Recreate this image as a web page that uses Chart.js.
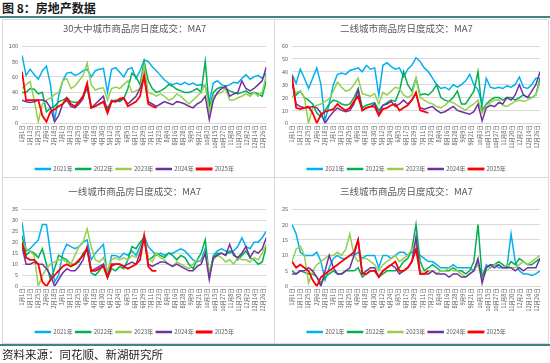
<!DOCTYPE html>
<html>
<head>
<meta charset="utf-8">
<script src="https://cdn.jsdelivr.net/npm/chart.js@4.4.1/dist/chart.umd.min.js"></script>
<style>
  body { margin: 0; width: 550px; height: 363px; background: #fff; position: relative; overflow: hidden;
         font-family: "Noto Sans CJK SC", sans-serif; }
  .abs { position: absolute; }
  #head { left: 2px; top: 0px; font-size: 12px; font-weight: bold; color: #1a1a1a; line-height: 16px; }
  .teal { left: 0; width: 550px; height: 2px; background: #3d8584; }
  #frame { left: 2px; top: 19px; width: 545px; height: 323px; border: 1px solid #d9d9d9; }
  #vdiv { left: 274px; top: 19px; width: 1px; height: 324px; background: #d9d9d9; }
  #hdiv { left: 2px; top: 177px; width: 546px; height: 1px; background: #d9d9d9; }
  #foot { left: 2px; top: 346px; font-size: 11.5px; color: #222; line-height: 16px; }
  canvas { position: absolute; }
</style>
</head>
<body>
<div id="head" class="abs">图 8：房地产数据</div>
<div class="abs teal" style="top:16px"></div>
<div id="frame" class="abs"></div>
<div id="vdiv" class="abs"></div>
<div id="hdiv" class="abs"></div>
<canvas id="c1" width="270" height="162" style="left:3px;top:20px"></canvas>
<canvas id="c2" width="274" height="162" style="left:273px;top:20px"></canvas>
<canvas id="c3" width="270" height="162" style="left:3px;top:183px"></canvas>
<canvas id="c4" width="274" height="162" style="left:273px;top:183px"></canvas>
<div class="abs teal" style="top:344px"></div>
<div id="foot" class="abs">资料来源：同花顺、新湖研究所</div>
<script>
const years = ['2021年', '2022年', '2023年', '2024年', '2025年'];
const colors = ['#00B0F0', '#00B050', '#92D050', '#7030A0', '#FF0000'];
const tickLabels = ['1月1日', '1月13日', '1月25日', '2月6日', '2月18日', '3月1日', '3月13日', '3月25日',
  '4月6日', '4月18日', '4月30日', '5月12日', '5月24日', '6月5日', '6月17日', '6月29日', '7月11日',
  '7月23日', '8月4日', '8月16日', '8月28日', '9月9日', '9月21日', '10月3日', '10月15日', '10月27日',
  '11月8日', '11月20日', '12月2日', '12月14日', '12月26日'];
const daysInYear = 365;
const steps = 60; // one reading about every 6 days

// 30大中城市
const c30_2021 = [88,62,70,63,57,68,74,50,3,35,55,65,66,62,64,68,70,60,68,70,71,40,70,72,66,60,70,72,58,68,82,80,73,68,62,56,52,50,52,50,53,50,52,49,50,48,28,52,55,50,48,50,53,52,58,63,57,60,62,58,65];
const c30_2022 = [40,40,45,44,38,40,15,20,22,28,30,33,28,27,28,35,45,20,22,25,28,20,28,30,28,32,45,65,60,50,80,55,45,40,42,45,50,48,44,42,40,40,42,45,40,80,20,40,45,47,45,42,40,38,40,42,38,40,38,35,55];
const c30_2023 = [45,50,54,30,2,25,30,33,37,40,55,58,45,48,55,62,78,50,43,45,46,30,45,47,45,50,55,40,42,45,75,40,38,35,38,35,30,32,38,35,30,25,30,35,40,50,15,35,38,40,45,30,30,33,35,38,35,40,35,40,63];
const c30_2024 = [30,28,27,28,30,30,28,20,2,10,25,30,22,20,25,32,50,20,25,30,35,15,30,28,30,32,25,30,35,45,60,28,25,22,25,28,26,24,28,27,25,22,20,25,28,35,5,30,40,45,48,35,38,40,55,45,42,45,50,55,73];
const c30_2025 = [67,30,30,30,30,10,2,15,18,22,25,33,25,22,28,35,52,20,22,25,28,13,28,28,32,33,22,25,28,35,62,25,22,20];

// 二线城市
const t2_2021 = [38,31,42,35,27,35,43,30,2,15,30,38,39,38,41,42,43,40,45,42,43,22,45,47,44,42,43,36,42,45,51,48,43,40,35,30,27,28,26,30,28,30,33,38,30,26,15,35,28,27,28,27,29,28,30,36,28,27,30,35,35];
const t2_2022 = [30,22,25,20,18,15,8,5,10,15,18,17,15,14,15,20,27,12,14,15,16,10,14,16,18,17,25,40,30,25,35,22,23,22,25,30,20,18,17,20,25,15,15,20,25,40,10,15,18,20,20,18,20,20,18,20,22,20,20,22,35];
const t2_2023 = [20,24,25,20,0,12,14,15,17,19,25,32,28,25,26,30,35,23,22,21,23,15,24,22,25,28,27,22,20,22,35,20,18,16,15,13,12,14,17,16,14,12,10,13,15,18,8,14,16,18,18,14,13,15,17,18,17,18,20,22,32];
const t2_2024 = [32,15,13,12,12,13,12,8,0,5,9,12,10,9,10,15,26,10,12,13,15,7,14,15,17,13,15,18,15,18,23,12,11,12,13,10,8,9,11,13,10,9,8,7,9,15,2,12,14,13,16,15,20,18,22,30,22,20,25,30,40];
const t2_2025 = [37,12,11,12,13,8,0,7,9,10,11,15,12,10,12,17,21,10,12,13,13,6,11,12,14,15,10,12,14,18,24,10,9,8];

// 一线城市
const t1_2021 = [29,16,17,19,21,28,28,15,2,5,15,19,18,17,18,20,21,12,15,17,19,5,14,14,13,15,14,16,14,18,23,18,16,14,15,14,15,15,16,17,16,14,12,11,12,17,5,14,16,17,16,15,16,18,22,18,17,20,20,22,25];
const t1_2022 = [23,14,16,15,13,17,10,3,8,14,13,12,10,10,11,15,17,6,5,7,10,4,8,7,9,8,12,18,17,20,22,12,13,15,14,13,15,14,12,14,13,10,8,12,15,21,5,13,15,15,14,16,15,12,14,16,13,12,10,11,18];
const t1_2023 = [20,17,16,14,0,5,8,10,11,12,12,11,10,14,18,20,26,18,12,11,13,7,12,13,12,13,12,14,13,16,22,13,11,15,13,12,10,9,11,10,9,8,10,12,11,15,7,12,14,13,11,12,10,13,12,12,11,13,12,15,19];
const t1_2024 = [18,10,10,11,10,10,8,5,0,3,6,8,7,7,9,12,18,7,8,9,10,4,9,10,10,9,10,11,10,15,22,10,9,10,11,11,10,9,10,9,8,7,7,9,10,15,3,13,14,15,14,19,14,13,15,18,13,16,15,17,22];
const t1_2025 = [20,13,12,12,10,2,0,3,5,7,9,10,9,10,12,14,17,7,7,8,9,4,10,10,10,9,8,9,10,12,23,9,7,7];

// 三线城市
const t3_2021 = [20,17,11,10,10,10,11,8,2,6,9,10,9,9,10,10,11,9,10,10,10,6,10,10,9,10,11,11,10,11,12,10,9,8,8,7,6,6,6,7,6,6,6,6,5,8,3,7,6,7,6,6,6,17,8,5,4,4,3.5,4,5];
const t3_2022 = [5,4,5,4.5,4,4,3,1,3,4,5,4,4,5,5,5,6,3,4,5,5,3,4,5,5,5,6,8,9,12,20,8,5,6,7,6,5,5,5,6,5,5,4,5,8,20,3,6,7,7,8,7,6,8,7,9,8,7,7,8,9];
const t3_2023 = [8,12,13,10,1,5,7,8,9,10,10,11,10,12,17,10,8,9,9,8,7,5,7,8,9,10,8,9,10,12,14,5,4,5,5,4,5,5,6,5,5,4,3,4,5,7,2,5,6,7,7,6,7,6,6,7,8,7,8,9,10];
const t3_2024 = [4,4,5,5,6,5,3,0,5,10,6,4,4,5,6,10,15,4,5,6,6,3,5,6,7,6,4,5,6,8,16,4,4,4,5,4,4,4,3,4,4,3,3,4,5,9,1,6,7,6,7,6,6,6,5,6,5,6,6,6,9];
const t3_2025 = [8,6,7,6,5,2,0,3,4,5,6,7,8,9,10,11,15,4,4,5,5,3,5,6,7,8,5,5,6,8,12,4,4,5];

const FONT = '"Noto Sans CJK SC", sans-serif';
const GREY = '#595959';

function makeChart(id, title, yMax, yStep, series, padRight) {
  new Chart(document.getElementById(id), {
    type: 'line',
    data: {
      datasets: series.map((vals, k) => ({
        label: years[k],
        data: vals.map((v, i) => ({ x: i * daysInYear / steps, y: v })),
        borderColor: colors[k],
        backgroundColor: colors[k],
        borderWidth: k === 4 ? 1.8 : 1.5,
        pointRadius: 0,
        order: 4 - k
      }))
    },
    options: {
      responsive: false,
      animation: false,
      layout: { padding: { left: 0, right: padRight, top: 0, bottom: 0 } },
      plugins: {
        title: {
          display: true, text: title, color: GREY,
          font: { size: 9.5, family: FONT, weight: 'normal' },
          padding: { top: 3, bottom: 11.6 }
        },
        legend: {
          position: 'bottom',
          labels: {
            font: { size: 6, family: FONT }, color: GREY,
            boxWidth: 15, boxHeight: 1, padding: 3,
            sort: (a, b) => a.datasetIndex - b.datasetIndex
          }
        },
        tooltip: { enabled: false }
      },
      scales: {
        x: {
          type: 'linear', min: 0, max: daysInYear,
          grid: { display: false, drawTicks: false },
          border: { display: true, color: '#d9d9d9' },
          afterBuildTicks: ax => { ax.ticks = tickLabels.map((_, i) => ({ value: i * 12 })); },
          afterFit: s => { s.height = 39.7; },
          ticks: {
            autoSkip: false, maxRotation: 90, minRotation: 90, padding: 2,
            font: { size: 5.5, family: FONT }, color: GREY,
            callback: v => tickLabels[Math.round(v / 12)]
          }
        },
        y: {
          min: 0, max: yMax,
          grid: { color: '#d9d9d9', drawTicks: false },
          border: { display: false },
          afterFit: s => { s.width = 19; },
          ticks: { stepSize: yStep, padding: 4, font: { size: 5.5, family: FONT }, color: GREY }
        }
      }
    }
  });
}

makeChart('c1', '30大中城市商品房日度成交：MA7', 100, 10, [c30_2021, c30_2022, c30_2023, c30_2024, c30_2025], 6.7);
makeChart('c2', '二线城市商品房日度成交：MA7', 60, 10, [t2_2021, t2_2022, t2_2023, t2_2024, t2_2025], 7);
makeChart('c3', '一线城市商品房日度成交：MA7', 35, 5, [t1_2021, t1_2022, t1_2023, t1_2024, t1_2025], 6.7);
makeChart('c4', '三线城市商品房日度成交：MA7', 25, 5, [t3_2021, t3_2022, t3_2023, t3_2024, t3_2025], 7);
</script>
</body>
</html>
